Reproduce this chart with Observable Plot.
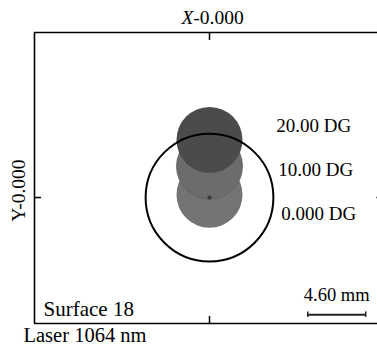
<!DOCTYPE html>
<html>
<head>
<meta charset="utf-8">
<script src="https://cdn.jsdelivr.net/npm/d3@7"></script>
<script src="https://cdn.jsdelivr.net/npm/@observablehq/plot@0.6"></script>
<style>
  html, body { margin: 0; padding: 0; background: #fff; }
  #chart svg { display: block; }
</style>
</head>
<body>
<div id="chart"></div>
<script>
// Field angles (degrees) and spot centroid heights (mm) on surface 18
const fields = ["0.000 DG", "10.00 DG", "20.00 DG"];
const spotY = [0.22, 2.48, 4.57];
const spotX = [0, 0, 0];
const spotRadius = [2.62, 2.62, 2.62];
const spotFill = ["#747474", "#6c6c6c", "#4b4b4b"];
const labelX = [5.7, 5.45, 5.3];
const labelY = [-1.33, 2.18, 5.66];
// Airy / reference circle
const circleRadius = [5.07];
// Scale bar
const scaleBarLength = 4.60;
const scaleBarStart = 7.8;
const scaleBarY = -9.3;
const xDomain = [-13.89, 13.89];
const yDomain = [-10, 13.1];

const spots = fields.map((f, i) => ({field: f, x: spotX[i], y: spotY[i], r: spotRadius[i], fill: spotFill[i], lx: labelX[i], ly: labelY[i]}));

const serif = "'Liberation Serif', 'Times New Roman', serif";

const plot = Plot.plot({
  width: 377,
  height: 347,
  marginLeft: 34,
  marginTop: 32,
  marginBottom: 24,
  marginRight: 0,
  x: {type: "linear", domain: xDomain, range: [34, 384], axis: null},
  y: {type: "linear", domain: yDomain, range: [323, 32], axis: null},
  r: {type: "linear", domain: [0, 1], range: [0, 12.6]},
  style: {fontFamily: serif, background: "white", overflow: "hidden"},
  marks: [
    // spots
    Plot.dot(spots, {x: "x", y: "y", r: "r", fill: "fill", stroke: (d, i) => i === 1 ? "#626262" : "none", strokeWidth: 0.8}),
    // chief ray point
    Plot.dot([{x: 0, y: 0, r: 0.17}], {x: "x", y: "y", r: "r", fill: "#3a3a3a"}),
    // reference circle
    Plot.dot([{x: 0, y: 0, r: circleRadius[0]}], {x: "x", y: "y", r: "r", stroke: "black", strokeWidth: 2, fill: "none"}),
    // frame
    Plot.ruleX([xDomain[0]], {stroke: "black", strokeWidth: 1.6}),
    Plot.ruleX([xDomain[1]], {stroke: "black", strokeWidth: 1.6}),
    Plot.ruleY([yDomain[1]], {stroke: "black", strokeWidth: 1.6}),
    Plot.ruleY([yDomain[0]], {stroke: "black", strokeWidth: 1.6}),
    // center ticks
    Plot.ruleX([0], {y1: yDomain[1], y2: yDomain[1] - 0.63, stroke: "black", strokeWidth: 1.5}),
    Plot.ruleX([0], {y1: yDomain[0], y2: yDomain[0] + 0.56, stroke: "black", strokeWidth: 1.5}),
    Plot.ruleY([0], {x1: xDomain[0], x2: xDomain[0] + 0.56, stroke: "black", strokeWidth: 1.5}),
    Plot.ruleY([0], {x1: xDomain[1], x2: xDomain[1] - 0.6, stroke: "black", strokeWidth: 1.5}),
    // field labels
    Plot.text(spots, {x: "lx", y: "ly", text: "field", textAnchor: "start", fontSize: 19, fill: "black", fontFamily: serif}),
    // scale bar
    Plot.ruleY([scaleBarY], {x1: scaleBarStart, x2: scaleBarStart + scaleBarLength, stroke: "#222", strokeWidth: 2}),
    Plot.ruleX([scaleBarStart, scaleBarStart + scaleBarLength], {y1: scaleBarY - 0.22, y2: scaleBarY + 0.22, stroke: "#222", strokeWidth: 1.5}),
    Plot.text(["4.60 mm"], {x: scaleBarStart + scaleBarLength / 2, y: scaleBarY, dy: -20, text: d => d, fontSize: 18.5, fill: "black", fontFamily: serif}),
    // surface label
    Plot.text(["Surface 18"], {x: xDomain[0], y: yDomain[0], dx: 9, dy: -14, text: d => d, textAnchor: "start", fontSize: 21, fill: "black", fontFamily: serif}),
    // wavelength
    Plot.text(["Laser 1064 nm"], {x: xDomain[0], y: yDomain[0], dx: -11, dy: 12, text: d => d, textAnchor: "start", fontSize: 20.5, fill: "black", fontFamily: serif}),
    // axis titles
    Plot.text(["-0.000"], {x: 0, y: yDomain[1], dx: 9, dy: -15, text: d => d, fontSize: 19.5, fill: "black", fontFamily: serif}),
    Plot.text(["X"], {x: 0, y: yDomain[1], dx: -22, dy: -15, text: d => d, fontSize: 19.5, fontStyle: "italic", fill: "black", fontFamily: serif}),
    Plot.text(["Y-0.000"], {x: xDomain[0], y: 0, dx: -16, dy: -7, text: d => d, rotate: -90, fontSize: 19.5, fill: "black", fontFamily: serif})
  ]
});

document.getElementById("chart").appendChild(plot);
</script>
</body>
</html>
